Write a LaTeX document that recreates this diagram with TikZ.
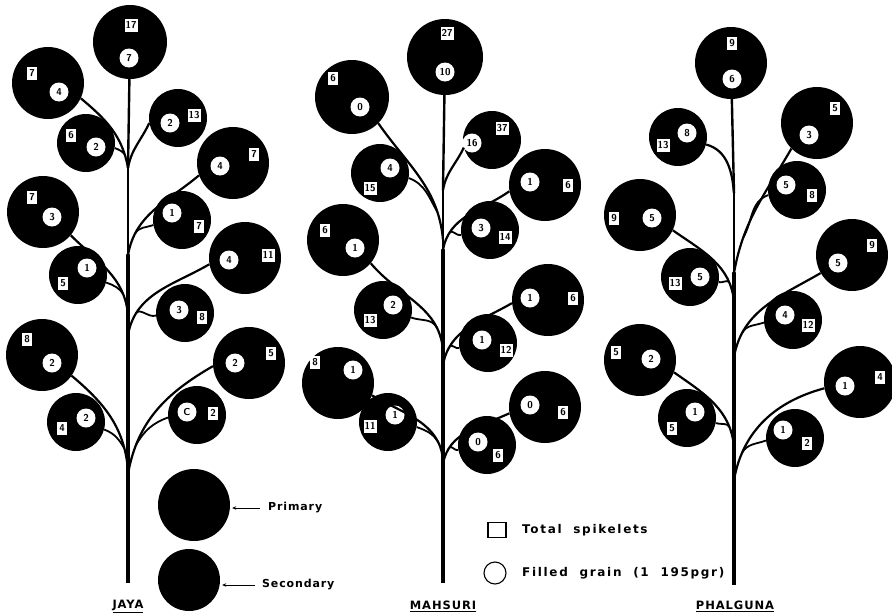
\documentclass[tikz,border=0pt]{standalone}
\usepackage{fontspec}
\usetikzlibrary{arrows.meta, positioning}

\newfontfamily\legfont{DejaVu Sans}[LetterSpace=8]
\newfontfamily\keyfont{DejaVu Sans}[LetterSpace=14, WordSpace=2]

\begin{document}
\begin{tikzpicture}[
    x=1pt, y=-1pt,
    prim/.style={circle, fill=black, inner sep=0pt, minimum size=72pt},
    secd/.style={circle, fill=black, inner sep=0pt, minimum size=58pt},
    tot/.style={fill=white, inner sep=1pt, minimum width=10pt, minimum height=13pt, font=\sffamily\bfseries\fontsize{10}{10}\selectfont},
    fil/.style={circle, fill=white, inner sep=0pt, minimum size=19pt, font=\sffamily\bfseries\fontsize{10}{10}\selectfont},
    stem/.style={line width=2.4pt, line cap=round},
    prbranch/.style={line width=2.2pt},
    scbranch/.style={line width=1.8pt},
    legtext/.style={font=\legfont\bfseries\fontsize{11}{12}\selectfont, anchor=west, inner sep=0pt},
    keytext/.style={font=\keyfont\bfseries\fontsize{12}{13}\selectfont, anchor=west, inner sep=0pt},
    title/.style={font=\legfont\bfseries\fontsize{11.5}{12}\selectfont, inner sep=0pt},
    arrow/.style={-{Stealth[length=4pt, width=3.5pt]}, line width=1pt}
]
\useasboundingbox (0,0) rectangle (892,616);

% ---------- JAYA ----------
\node[prim, minimum size=74pt] (jt) at (130,42) {};
\node[tot] at (131,25) {17}; \node[fil] at (129,58) {7};
\node[prim] (jl1) at (48,83) {};
\node[tot] at (32,73) {7}; \node[fil] at (59,92) {4};
\node[secd] (jl1s) at (86,143) {};
\node[tot] at (71,135) {6}; \node[fil] at (96,147) {2};
\node[secd] (jr1) at (178,118) {};
\node[fil] at (170,123) {2}; \node[tot] at (194,115) {13};
\node[prim] (jr2) at (233,163) {};
\node[fil] at (220,166) {4}; \node[tot] at (254,154) {7};
\node[secd] (jr2s) at (182,220) {};
\node[fil] at (172,213) {1}; \node[tot] at (199,226) {7};
\node[prim] (jl3) at (43,212) {};
\node[tot] at (32,197) {7}; \node[fil] at (52,217) {3};
\node[secd] (jl3s) at (78,275) {};
\node[fil] at (87,268) {1}; \node[tot] at (63,283) {5};
\node[prim] (jr4) at (245,258) {};
\node[fil] at (229,260) {4}; \node[tot] at (268,255) {11};
\node[secd] (jr4s) at (185,313) {};
\node[fil] at (179,310) {3}; \node[tot] at (202,317) {8};
\node[prim] (jl5) at (42,355) {};
\node[tot] at (27,339) {8}; \node[fil] at (52,363) {2};
\node[secd] (jl5s) at (76,422) {};
\node[fil] at (86,418) {2}; \node[tot] at (62,428) {4};
\node[prim] (jr6) at (249,363) {};
\node[fil] at (235,363) {2}; \node[tot] at (271,353) {5};
\node[secd] (jr6s) at (197,415) {};
\node[fil] at (187,412) {C}; \node[tot] at (213,413) {2};

\coordinate (ja1) at (128,168);
\coordinate (ja2) at (128,255);
\coordinate (ja3) at (128,315);
\coordinate (ja4) at (128,335);
\coordinate (ja5) at (128,470);
\coordinate (ja6) at (128,474);
\coordinate (jbase) at (128,583);

\draw[stem] (jt) -- (ja1);
\draw[stem, line width=2.8pt] (ja1) -- (ja2);
\draw[stem, line width=3.2pt] (ja2) -- (ja4);
\draw[stem, line width=3.8pt] (ja4) -- (ja6);
\draw[stem, line width=4.6pt, line cap=butt] (ja6) -- (jbase);

\draw[prbranch] (jl1.-25) to[out=-40, in=100] coordinate[pos=.85] (jl1j) (ja1);
\draw[scbranch] (jl1s.-10) to[out=-20, in=130] (jl1j);
\draw[prbranch] (jr1.190) to[out=-115, in=80] (ja1);
\draw[prbranch] (jr2.200) to[out=-140, in=80] coordinate[pos=.8] (jr2j) (ja2);
\draw[scbranch] (jr2s.190) to[out=200, in=60] (jr2j);
\draw[prbranch] (jl3.-40) to[out=-45, in=95] coordinate[pos=.8] (jl3j) (ja3);
\draw[scbranch] (jl3s.-15) to[out=-20, in=120] (jl3j);
\draw[prbranch] (jr4.190) to[out=-150, in=80] coordinate[pos=.8] (jr4j) (ja4);
\draw[scbranch] (jr4s.185) to[out=200, in=60] (jr4j);
\draw[prbranch] (jl5.-35) to[out=-40, in=95] coordinate[pos=.82] (jl5j) (ja5);
\draw[scbranch] (jl5s.-15) to[out=-20, in=120] (jl5j);
\draw[prbranch] (jr6.185) to[out=-150, in=80] coordinate[pos=.8] (jr6j) (ja6);
\draw[scbranch] (jr6s.185) to[out=200, in=60] (jr6j);

% legend of ball sizes
\node[prim] (lprim) at (194,505) {};
\node[secd, minimum size=62pt] (lsec) at (189,580) {};
\node[legtext] (tprim) at (268,508) {Primary};
\node[legtext] (tsec) at (262,585) {Secondary};
\draw[arrow] ([xshift=-8pt]tprim.west) -- ([xshift=2pt]tprim.west -| lprim.east);
\draw[arrow] ([xshift=-7pt]tsec.west) -- ([xshift=2pt]tsec.west -| lsec.east);

\node[title] (njaya) at (128,606) {\underline{JAYA}};

% ---------- MAHSURI ----------
\node[prim, minimum size=76pt] (mt) at (445,57) {};
\node[tot] at (447,33) {27}; \node[fil] at (445,72) {10};
\node[prim, minimum size=74pt] (ml1) at (352,97) {};
\node[tot] at (333,78) {6}; \node[fil] at (360,107) {0};
\node[secd] (ml1s) at (380,173) {};
\node[fil] at (390,168) {4}; \node[tot] at (370,188) {15};
\node[secd] (mr1) at (492,140) {};
\node[fil] at (472,143) {16}; \node[tot] at (502,128) {37};
\node[prim] (mr2) at (545,185) {};
\node[fil] at (530,182) {1}; \node[tot] at (568,185) {6};
\node[secd] (mr2s) at (490,230) {};
\node[fil] at (481,228) {3}; \node[tot] at (505,237) {14};
\node[prim] (ml3) at (343,240) {};
\node[tot] at (325,230) {6}; \node[fil] at (355,248) {1};
\node[secd] (ml3s) at (383,310) {};
\node[fil] at (393,305) {2}; \node[tot] at (370,320) {13};
\node[prim] (mr4) at (548,300) {};
\node[fil] at (530,298) {1}; \node[tot] at (573,298) {6};
\node[secd] (mr4s) at (488,343) {};
\node[fil] at (482,340) {1}; \node[tot] at (506,350) {12};
\node[prim] (ml5) at (338,383) {};
\node[tot] at (315,362) {8}; \node[fil] at (353,370) {1};
\node[secd] (ml5s) at (388,422) {};
\node[fil] at (395,415) {1}; \node[tot] at (370,426) {11};
\node[prim] (mr6) at (545,407) {};
\node[fil] at (530,405) {0}; \node[tot] at (563,412) {6};
\node[secd] (mr6s) at (487,445) {};
\node[fil] at (478,442) {0}; \node[tot] at (498,455) {6};

\coordinate (mb1) at (443,190);
\coordinate (mb2) at (443,240);
\coordinate (mb3) at (443,250);
\coordinate (mb4) at (443,350);
\coordinate (mb5) at (443,365);
\coordinate (mb6) at (443,460);
\coordinate (mb7) at (443,464);
\coordinate (mbase) at (443,583);

\draw[stem] (mt) -- (mb1);
\draw[stem, line width=2.8pt] (mb1) -- (mb3);
\draw[stem, line width=3.2pt] (mb3) -- (mb5);
\draw[stem, line width=3.8pt] (mb5) -- (mb7);
\draw[stem, line width=4.6pt, line cap=butt] (mb7) -- (mbase);

\draw[prbranch] (ml1.-45) to[out=-55, in=95] coordinate[pos=.8] (ml1j) (mb2);
\draw[scbranch] (ml1s.-10) to[out=-20, in=120] (ml1j);
\draw[prbranch] (mr1.195) to[out=-115, in=80] (mb1);
\draw[prbranch] (mr2.190) to[out=-145, in=80] coordinate[pos=.8] (mr2j) (mb3);
\draw[scbranch] (mr2s.190) to[out=200, in=60] (mr2j);
\draw[prbranch] (ml3.-40) to[out=-50, in=95] coordinate[pos=.8] (ml3j) (mb4);
\draw[scbranch] (ml3s.-15) to[out=-20, in=120] (ml3j);
\draw[prbranch] (mr4.185) to[out=-150, in=80] coordinate[pos=.8] (mr4j) (mb5);
\draw[scbranch] (mr4s.190) to[out=200, in=60] (mr4j);
\draw[prbranch] (ml5.-20) to[out=-30, in=95] coordinate[pos=.82] (ml5j) (mb6);
\draw[scbranch] (ml5s.-10) to[out=-20, in=120] (ml5j);
\draw[prbranch] (mr6.190) to[out=-155, in=80] coordinate[pos=.8] (mr6j) (mb7);
\draw[scbranch] (mr6s.190) to[out=200, in=60] (mr6j);

% legend of the labels
\node[draw, line width=1.3pt, minimum width=18pt, minimum height=15pt, inner sep=0pt] (lbox) at (497,530) {};
\node[keytext] (tbox) at (522,530) {Total spikelets};
\node[draw, circle, line width=1.1pt, minimum size=22pt, inner sep=0pt] (lcirc) at (495,573) {};
\node[keytext] (tcirc) at (522,573) {Filled grain (1 195pgr)};

\node[title] (nmahsuri) at (443,606) {\underline{MAHSURI}};

% ---------- PHALGUNA ----------
\node[prim] (pt) at (731,63) {};
\node[tot] at (732,43) {9}; \node[fil] at (732,79) {6};
\node[secd] (pl1) at (678,137) {};
\node[fil] at (687,133) {8}; \node[tot] at (663,145) {13};
\node[prim] (pr1) at (817,123) {};
\node[tot] at (835,108) {5}; \node[fil] at (809,135) {3};
\node[secd] (pr1s) at (797,190) {};
\node[fil] at (786,185) {5}; \node[tot] at (812,195) {8};
\node[prim] (pl2) at (640,215) {};
\node[tot] at (614,218) {9}; \node[fil] at (652,218) {5};
\node[secd] (pl2s) at (690,277) {};
\node[fil] at (700,277) {5}; \node[tot] at (675,283) {13};
\node[prim] (pr3) at (852,255) {};
\node[fil] at (838,263) {5}; \node[tot] at (872,245) {9};
\node[secd] (pr3s) at (793,320) {};
\node[fil] at (785,315) {4}; \node[tot] at (808,325) {12};
\node[prim] (pl4) at (640,360) {};
\node[tot] at (616,352) {5}; \node[fil] at (651,359) {2};
\node[secd] (pl4s) at (687,418) {};
\node[fil] at (695,412) {1}; \node[tot] at (672,428) {5};
\node[prim] (pr5) at (860,382) {};
\node[fil] at (845,386) {1}; \node[tot] at (880,377) {4};
\node[secd] (pr5s) at (795,438) {};
\node[fil] at (783,430) {1}; \node[tot] at (807,443) {2};

\coordinate (pb1) at (734,193);
\coordinate (pb2) at (734,273);
\coordinate (pb3) at (734,302);
\coordinate (pb4) at (734,357);
\coordinate (pb5) at (734,447);
\coordinate (pb6) at (734,480);
\coordinate (pbase) at (734,585);

\draw[stem] (pt) -- (pb1);
\draw[stem, line width=2.8pt] (pb1) -- (pb2);
\draw[stem, line width=3.2pt] (pb2) -- (pb4);
\draw[stem, line width=3.8pt] (pb4) -- (pb6);
\draw[stem, line width=4.6pt, line cap=butt] (pb6) -- (pbase);

\draw[prbranch] (pl1.-15) to[out=-15, in=95] (pb1);
\draw[prbranch] (pr1.225) to[out=-120, in=80] coordinate[pos=.75] (pr1j) (pb2);
\draw[scbranch] (pr1s.190) to[out=200, in=60] (pr1j);
\draw[prbranch] (pl2.-25) to[out=-35, in=95] coordinate[pos=.8] (pl2j) (pb3);
\draw[scbranch] (pl2s.-10) to[out=-20, in=120] (pl2j);
\draw[prbranch] (pr3.210) to[out=-150, in=80] coordinate[pos=.8] (pr3j) (pb4);
\draw[scbranch] (pr3s.185) to[out=200, in=60] (pr3j);
\draw[prbranch] (pl4.-20) to[out=-35, in=95] coordinate[pos=.8] (pl4j) (pb5);
\draw[scbranch] (pl4s.-10) to[out=-20, in=120] (pl4j);
\draw[prbranch] (pr5.190) to[out=-165, in=80] coordinate[pos=.8] (pr5j) (pb6);
\draw[scbranch] (pr5s.185) to[out=200, in=60] (pr5j);

\node[title] (nphalguna) at (735,606) {\underline{PHALGUNA}};
\end{tikzpicture}
\end{document}
